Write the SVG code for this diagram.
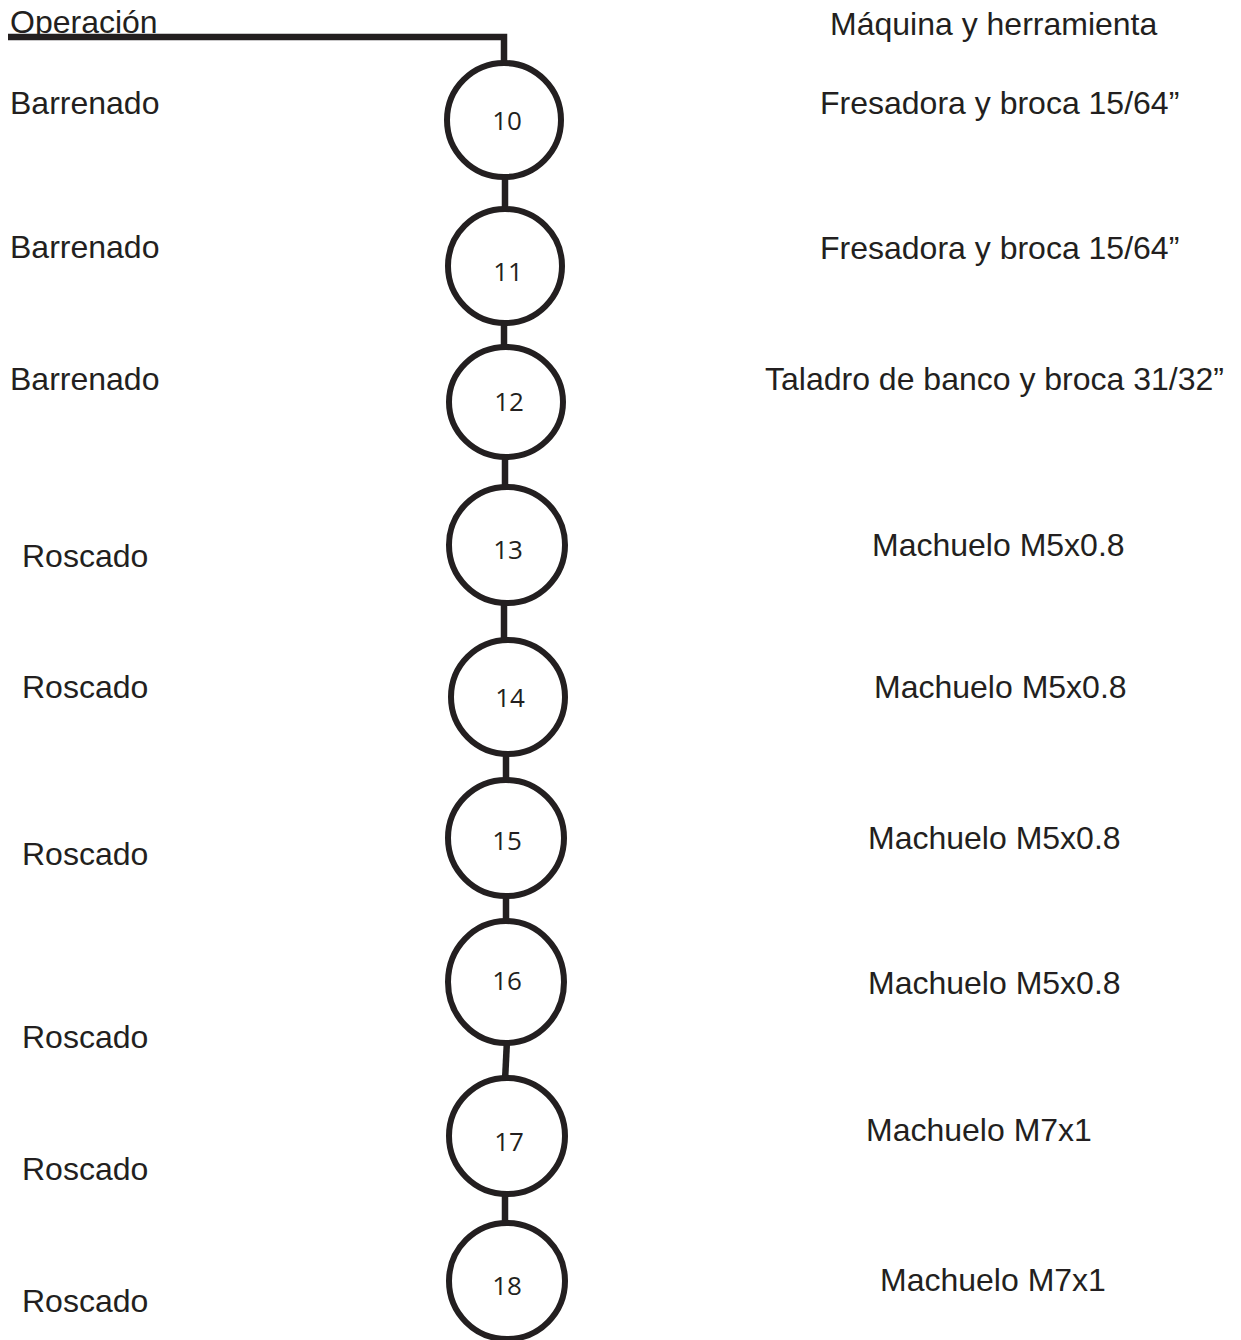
<svg xmlns="http://www.w3.org/2000/svg" width="1241" height="1340" viewBox="0 0 1241 1340">
<style>
.lbl{font-family:"Liberation Sans",Arial,sans-serif;font-size:32px;fill:#231f20}
.num{font-family:"Open Sans","Noto Sans",sans-serif;font-size:26px;fill:#231f20;text-anchor:middle}
.op{fill:#fff;stroke:#231f20;stroke-width:6}
.con{fill:none;stroke:#231f20;stroke-width:6.5}
</style>
<rect width="1241" height="1340" fill="#fff"/>
<g id="connectors">
<polyline class="con" points="8,37 504,37 504,64"/>
<line class="con" x1="505" y1="172" x2="505" y2="212"/>
<line class="con" x1="504" y1="320" x2="504" y2="350"/>
<line class="con" x1="505" y1="454" x2="505" y2="490"/>
<line class="con" x1="504" y1="600" x2="504" y2="643"/>
<line class="con" x1="506" y1="751" x2="506" y2="783"/>
<line class="con" x1="506" y1="893" x2="506" y2="923"/>
<line class="con" x1="507" y1="1040" x2="505" y2="1081"/>
<line class="con" x1="505" y1="1191" x2="505" y2="1226"/>
</g>
<g id="headers">
<text class="lbl" x="10" y="33">Operación</text>
<text class="lbl" x="830" y="35">Máquina y herramienta</text>
</g>
<g id="op10"><circle class="op" cx="504" cy="120" r="57"/><text class="num" x="507" y="130">10</text>
<text class="lbl" x="10" y="114">Barrenado</text><text class="lbl" x="820" y="114">Fresadora y broca 15/64”</text></g>
<g id="op11"><circle class="op" cx="505" cy="266" r="57"/><text class="num" x="508" y="281">11</text>
<text class="lbl" x="10" y="258">Barrenado</text><text class="lbl" x="820" y="259">Fresadora y broca 15/64”</text></g>
<g id="op12"><ellipse class="op" cx="506" cy="402" rx="57" ry="55"/><text class="num" x="509" y="411">12</text>
<text class="lbl" x="10" y="390">Barrenado</text><text class="lbl" x="765" y="390">Taladro de banco y broca 31/32”</text></g>
<g id="op13"><circle class="op" cx="507" cy="545" r="58"/><text class="num" x="508" y="559">13</text>
<text class="lbl" x="22" y="567">Roscado</text><text class="lbl" x="872" y="556">Machuelo M5x0.8</text></g>
<g id="op14"><circle class="op" cx="508" cy="697" r="57"/><text class="num" x="510" y="707">14</text>
<text class="lbl" x="22" y="698">Roscado</text><text class="lbl" x="874" y="698">Machuelo M5x0.8</text></g>
<g id="op15"><circle class="op" cx="506" cy="838" r="58"/><text class="num" x="507" y="850">15</text>
<text class="lbl" x="22" y="865">Roscado</text><text class="lbl" x="868" y="849">Machuelo M5x0.8</text></g>
<g id="op16"><ellipse class="op" cx="506" cy="982" rx="58" ry="61"/><text class="num" x="507" y="990">16</text>
<text class="lbl" x="22" y="1048">Roscado</text><text class="lbl" x="868" y="994">Machuelo M5x0.8</text></g>
<g id="op17"><circle class="op" cx="507" cy="1136" r="58"/><text class="num" x="509" y="1151">17</text>
<text class="lbl" x="22" y="1180">Roscado</text><text class="lbl" x="866" y="1141">Machuelo M7x1</text></g>
<g id="op18"><circle class="op" cx="507" cy="1281" r="58"/><text class="num" x="507" y="1295">18</text>
<text class="lbl" x="22" y="1312">Roscado</text><text class="lbl" x="880" y="1291">Machuelo M7x1</text></g>
</svg>
